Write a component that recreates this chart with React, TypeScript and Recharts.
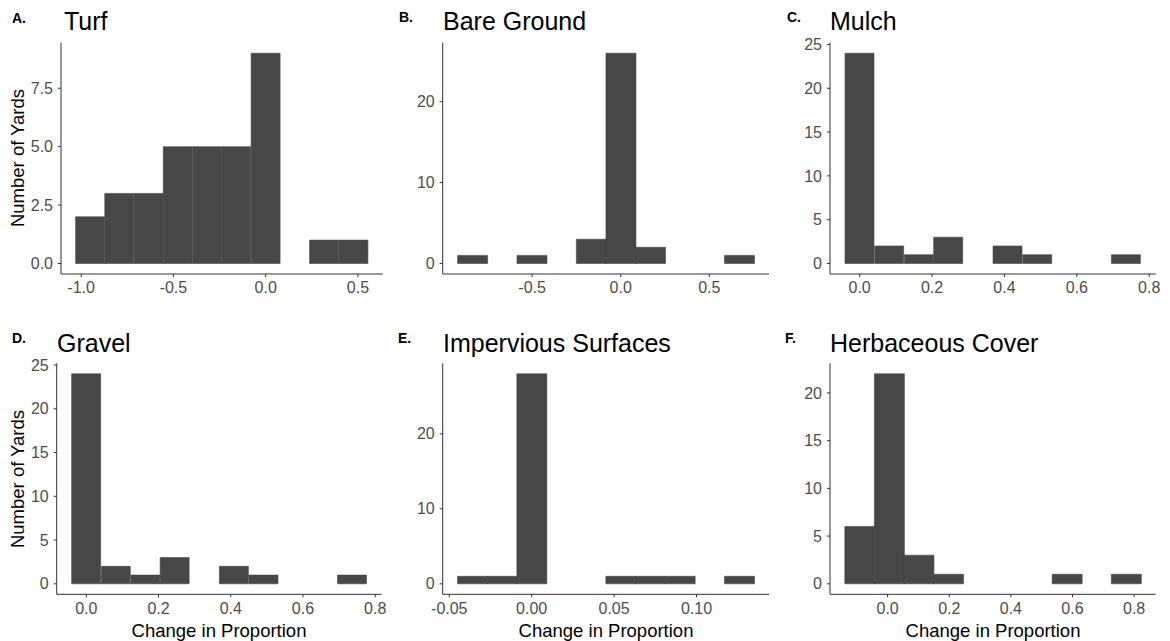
import React from "react";
import { BarChart, Bar, XAxis, YAxis } from "recharts";

// bin centres and counts (10 bins per panel)
const turfBins = [-0.951, -0.793, -0.634, -0.476, -0.317, -0.159, 0, 0.159, 0.317, 0.476];
const turfCounts = [2, 3, 3, 5, 5, 5, 9, 0, 1, 1];
const turfXTicks = [-1, -0.5, 0, 0.5];
const turfYTicks = [0, 2.5, 5, 7.5];

const bareBins = [-0.837, -0.669, -0.502, -0.335, -0.167, 0, 0.167, 0.335, 0.502, 0.669];
const bareCounts = [1, 0, 1, 0, 3, 26, 2, 0, 0, 1];
const bareXTicks = [-0.5, 0, 0.5];
const bareYTicks = [0, 10, 20];

const mulchBins = [0, 0.082, 0.164, 0.245, 0.327, 0.409, 0.491, 0.573, 0.654, 0.736];
const mulchCounts = [24, 2, 1, 3, 0, 2, 1, 0, 0, 1];

const gravelBins = [0, 0.082, 0.164, 0.245, 0.327, 0.409, 0.491, 0.573, 0.654, 0.736];
const gravelCounts = [24, 2, 1, 3, 0, 2, 1, 0, 0, 1];

const propXTicks = [0, 0.2, 0.4, 0.6, 0.8];
const fiveYTicks = [0, 5, 10, 15, 20, 25];

const imperviousBins = [-0.036, -0.018, 0, 0.018, 0.036, 0.054, 0.072, 0.09, 0.108, 0.126];
const imperviousCounts = [1, 1, 28, 0, 0, 1, 1, 1, 0, 1];
const imperviousXTicks = [-0.05, 0, 0.05, 0.1];
const imperviousYTicks = [0, 10, 20];

const herbBins = [-0.091, 0.005, 0.101, 0.197, 0.293, 0.39, 0.486, 0.582, 0.678, 0.774];
const herbCounts = [6, 22, 3, 1, 0, 0, 0, 1, 0, 1];
const herbYTicks = [0, 5, 10, 15, 20];

const FONT = "'Liberation Sans', Arial, Helvetica, sans-serif";
const BAR = "#474747";
const YW = 50;
const XH = 30;

type Rect = { l: number; t: number; r: number; b: number };
type Cell = { x: number; y: number; w: number; h: number };

function Hist({ bins, counts, xTicks, yTicks, xDigits, yDigits, plot, cell }: {
  bins: number[]; counts: number[]; xTicks: number[]; yTicks: number[];
  xDigits: number; yDigits: number; plot: Rect; cell: Cell;
}) {
  const data = bins.map((x, i) => ({ x, n: counts[i] }));
  const bw = bins[1] - bins[0];
  const lo = bins[0] - bw / 2;
  const hi = bins[bins.length - 1] + bw / 2;
  const pad = (hi - lo) * 0.05;
  const yMax = Math.max(...counts);
  return (
    <div style={{ position: "absolute", left: cell.x, top: cell.y }}>
      <BarChart
        width={cell.w}
        height={cell.h}
        data={data}
        barCategoryGap={0}
        barGap={0}
        margin={{
          top: plot.t - cell.y,
          right: cell.x + cell.w - plot.r,
          bottom: cell.y + cell.h - plot.b - XH,
          left: plot.l - cell.x - YW,
        }}
      >
        <XAxis
          type="number"
          dataKey="x"
          domain={[lo - pad, hi + pad]}
          allowDataOverflow
          ticks={xTicks}
          interval={0}
          tickFormatter={(v: number) => v.toFixed(xDigits)}
          height={XH}
          tickSize={3}
          tickMargin={5}
          stroke="#333333"
          tick={{ fill: "#4d4d4d", fontSize: 16, fontFamily: FONT }}
        />
        <YAxis
          type="number"
          domain={[-0.05 * yMax, 1.05 * yMax]}
          allowDataOverflow
          ticks={yTicks}
          interval={0}
          tickFormatter={(v: number) => v.toFixed(yDigits)}
          width={YW}
          tickSize={3}
          tickMargin={5}
          stroke="#333333"
          tick={{ fill: "#4d4d4d", fontSize: 16, fontFamily: FONT }}
        />
        <Bar dataKey="n" fill={BAR} stroke={BAR} strokeWidth={0.6} isAnimationActive={false} />
      </BarChart>
    </div>
  );
}

const letters = [
  { t: "A.", x: 12, y: 22.5 },
  { t: "B.", x: 399, y: 22 },
  { t: "C.", x: 787, y: 22 },
  { t: "D.", x: 12, y: 343 },
  { t: "E.", x: 398, y: 343 },
  { t: "F.", x: 785, y: 343 },
];

const titles = [
  { t: "Turf", x: 64, y: 30 },
  { t: "Bare Ground", x: 443, y: 30 },
  { t: "Mulch", x: 830, y: 30 },
  { t: "Gravel", x: 57, y: 351.5 },
  { t: "Impervious Surfaces", x: 443, y: 351.5 },
  { t: "Herbaceous Cover", x: 830, y: 351.5 },
];

export default function App() {
  const topCell = (x: number): Cell => ({ x, y: 0, w: 390, h: 305 });
  const botCell = (x: number): Cell => ({ x, y: 300, w: 390, h: 341 });
  return (
    <div style={{ position: "absolute", left: 0, top: 0, width: 1170, height: 641, background: "#fff", fontFamily: FONT }}>
      <Hist bins={turfBins} counts={turfCounts} xTicks={turfXTicks} yTicks={turfYTicks} xDigits={1} yDigits={1}
        plot={{ l: 61, t: 42.7, r: 382.7, b: 274 }} cell={topCell(0)} />
      <Hist bins={bareBins} counts={bareCounts} xTicks={bareXTicks} yTicks={bareYTicks} xDigits={1} yDigits={0}
        plot={{ l: 442.7, t: 42.7, r: 769, b: 274 }} cell={topCell(390)} />
      <Hist bins={mulchBins} counts={mulchCounts} xTicks={propXTicks} yTicks={fiveYTicks} xDigits={1} yDigits={0}
        plot={{ l: 830, t: 42.7, r: 1155.7, b: 274 }} cell={topCell(780)} />
      <Hist bins={gravelBins} counts={gravelCounts} xTicks={propXTicks} yTicks={fiveYTicks} xDigits={1} yDigits={0}
        plot={{ l: 56.7, t: 363.3, r: 381.7, b: 594.3 }} cell={botCell(0)} />
      <Hist bins={imperviousBins} counts={imperviousCounts} xTicks={imperviousXTicks} yTicks={imperviousYTicks} xDigits={2} yDigits={0}
        plot={{ l: 442.7, t: 363.3, r: 769, b: 594.3 }} cell={botCell(390)} />
      <Hist bins={herbBins} counts={herbCounts} xTicks={propXTicks} yTicks={herbYTicks} xDigits={1} yDigits={0}
        plot={{ l: 830, t: 363.3, r: 1155.7, b: 594.3 }} cell={botCell(780)} />
      <svg width={1170} height={641} style={{ position: "absolute", left: 0, top: 0, pointerEvents: "none" }}>
        {letters.map((d) => (
          <text key={d.t} x={d.x} y={d.y} fontSize={14} fontWeight="bold" fill="#000" fontFamily={FONT}>{d.t}</text>
        ))}
        {titles.map((d) => (
          <text key={d.t} x={d.x} y={d.y} fontSize={25} fill="#000" fontFamily={FONT}>{d.t}</text>
        ))}
        <text x={24} y={158} fontSize={18.5} fill="#000" fontFamily={FONT} textAnchor="middle" transform="rotate(-90 24 158)">Number of Yards</text>
        <text x={24} y={479} fontSize={18.5} fill="#000" fontFamily={FONT} textAnchor="middle" transform="rotate(-90 24 479)">Number of Yards</text>
        <text x={219} y={636.5} fontSize={18.5} fill="#000" fontFamily={FONT} textAnchor="middle">Change in Proportion</text>
        <text x={606} y={636.5} fontSize={18.5} fill="#000" fontFamily={FONT} textAnchor="middle">Change in Proportion</text>
        <text x={993} y={636.5} fontSize={18.5} fill="#000" fontFamily={FONT} textAnchor="middle">Change in Proportion</text>
      </svg>
    </div>
  );
}
